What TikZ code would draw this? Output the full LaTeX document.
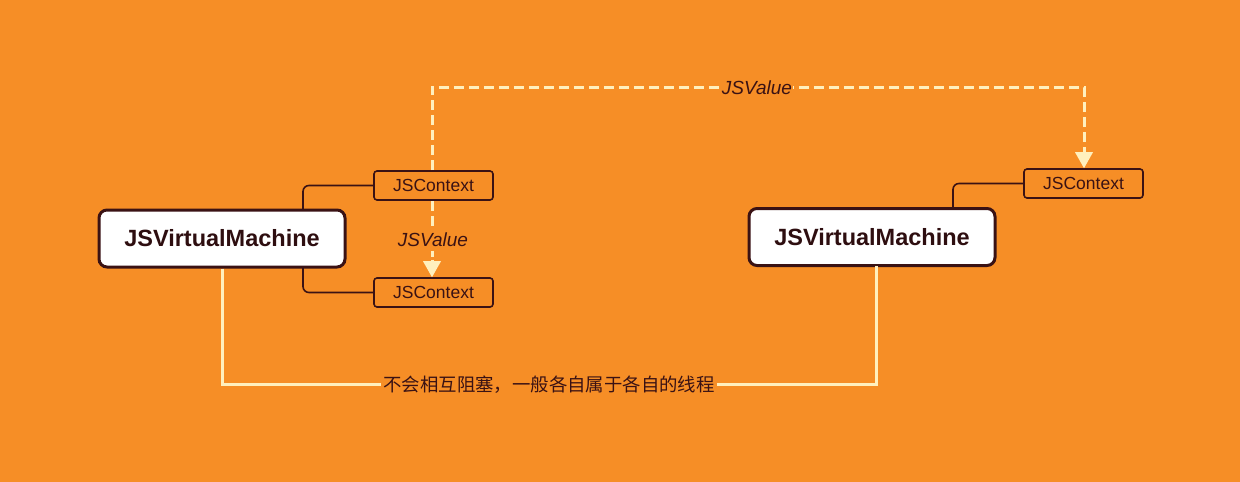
\documentclass[tikz,border=0pt]{standalone}
\usepackage{fontspec}
\setmainfont{Liberation Sans}
\newfontfamily\cjk{Noto Sans CJK SC}
\usetikzlibrary{arrows.meta}
\definecolor{bg}{RGB}{246,142,38}
\definecolor{brd}{RGB}{58,18,20}
\definecolor{ln}{RGB}{255,240,190}
\begin{document}
\begin{tikzpicture}[x=1pt,y=-1pt,
 vm/.style={draw=brd,line width=3pt,fill=white,rounded corners=8pt,minimum width=246pt,minimum height=57pt,font=\bfseries\fontsize{23.5}{26}\selectfont,text=brd!80!black},
 ctx/.style={draw=brd,line width=1.6pt,rounded corners=3pt,minimum width=119pt,minimum height=29pt,font=\fontsize{17.5}{19}\selectfont,text=brd},
 conn/.style={draw=brd,line width=1.6pt,rounded corners=6pt},
 dline/.style={draw=ln,line width=3pt,dash pattern=on 10pt off 5pt},
 yl/.style={draw=ln,line width=3pt}]
\fill[bg] (0,0) rectangle (1240,482);
\useasboundingbox (0,0) rectangle (1240,482);
\node[vm] (vm1) at (222,238.5) {JSVirtualMachine};
\node[vm] (vm2) at (872,237) {JSVirtualMachine};
\node[ctx] (c1) at (433.5,185.5) {JSContext};
\node[ctx] (c2) at (433.5,292.5) {JSContext};
\node[ctx] (c3) at (1083.5,183.5) {JSContext};
\draw[conn] (303,210) |- (c1.west);
\draw[conn] (303,267) |- (c2.west);
\draw[conn] (953,208) |- (c3.west);
\coordinate (t1) at (432,87);
\coordinate (t2) at (1084,87);
\draw[dline] (c1.north -| t1) -- (t1) -- (t2) -- ([yshift=14pt]c3.north -| t2);
\fill[ln] (c3.north -| t2) -- ++(-9,-16) -- ++(18,0) -- cycle;
\node[font=\itshape\fontsize{19}{21}\selectfont,text=brd,fill=bg,inner sep=1pt] (l1) at (757,88) {JSValue};
\node[font=\itshape\fontsize{19}{21}\selectfont,text=brd,fill=bg] (l2) at (433,240) {JSValue};
\draw[dline] (c1.south -| t1) -- (l2.north -| t1);
\draw[dline,dash pattern=on 6pt off 3pt] (l2.south -| t1) -- ([yshift=14pt]c2.north -| t1);
\fill[ln] (c2.north -| t1) -- ++(-9,-16) -- ++(18,0) -- cycle;
\draw[yl] (vm1.south) -- (222,384) -- (876,384) -- (876,266);
\node[font=\cjk\fontsize{18.4}{20}\selectfont,text=brd,fill=bg,inner sep=2pt] (lb) at (549,385) {不会相互阻塞，一般各自属于各自的线程};
\end{tikzpicture}
\end{document}
